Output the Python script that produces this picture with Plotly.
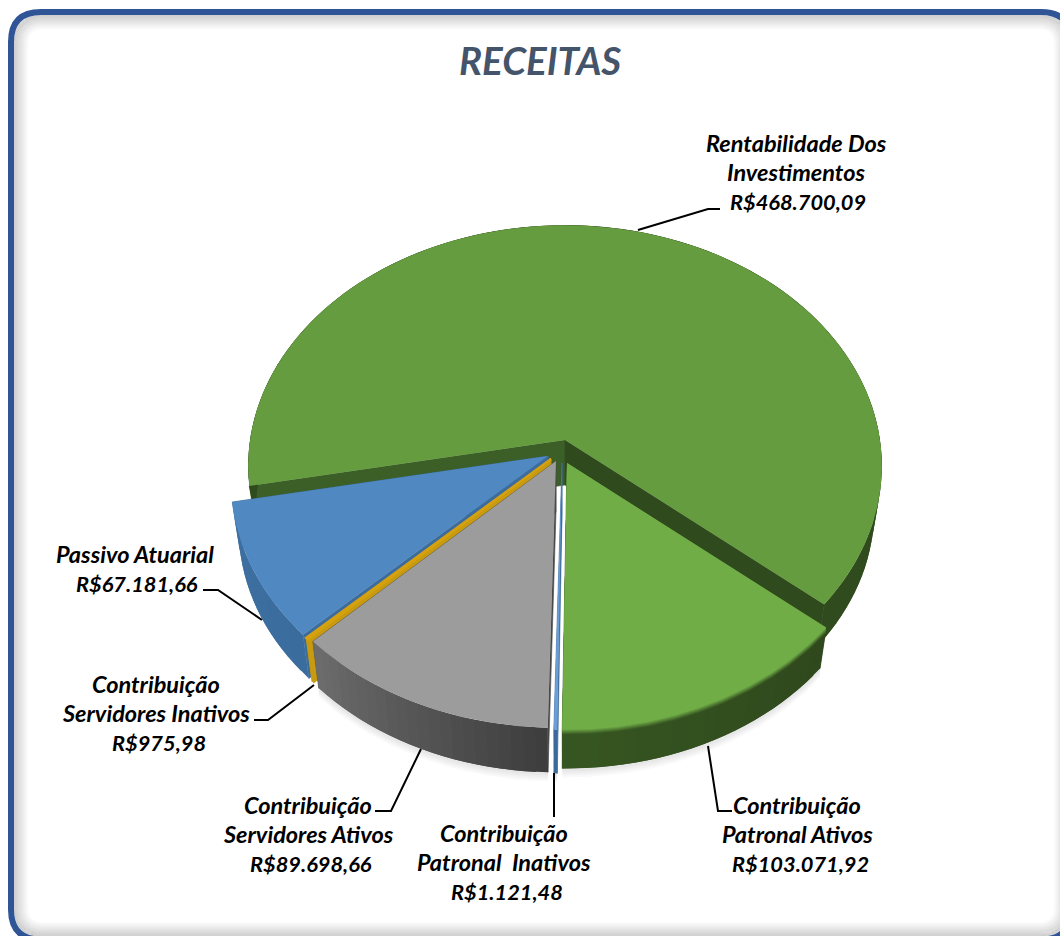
import numpy as np
import plotly.graph_objects as go

# ---- data ----
categories = ["Contribuição Patronal Ativos", "Contribuição Patronal Inativos",
              "Contribuição Servidores Ativos", "Contribuição Servidores Inativos",
              "Passivo Atuarial", "Rentabilidade Dos Investimentos"]
values = [103071.92, 1121.48, 89698.66, 975.98, 67181.66, 468700.09]
value_labels = ["R$103.071,92", "R$1.121,48", "R$89.698,66", "R$975,98", "R$67.181,66", "R$468.700,09"]
title = "RECEITAS"

# ---- projection of the tilted pie ----
START = 40.0
R, H, K = 315.0, 238.0, 0.108
BOTTOM_SCALE = 0.976


def top(t, cx, cy):
    a = np.radians(t)
    w = 1 / (1 - K * np.sin(a))
    return cx + R * np.cos(a) * w, cy + H * np.sin(a) * w


def bot(t, cx, cy, d):
    x, y = top(t, 0, 0)
    return cx + BOTTOM_SCALE * x, cy + BOTTOM_SCALE * y + d


def hex2rgb(h):
    return tuple(int(h[i:i + 2], 16) for i in (1, 3, 5))


def mix(c1, c2, f):
    c = [int(round(a + (b - a) * f)) for a, b in zip(c1, c2)]
    return f"rgb({c[0]},{c[1]},{c[2]})"


# apex, depth and colours per slice
style = {
    "Contribuição Patronal Ativos": dict(apex=(567, 463), d=45, top="#70ad47", wall=((47, 72, 29), (54, 86, 33)), edge="#2f4a1c", soft=5),
    "Contribuição Patronal Inativos": dict(apex=(562, 463), d=50, top="#6a9fd6", wall=((60, 105, 155), (60, 105, 155)), edge="#3c699b"),
    "Contribuição Servidores Ativos": dict(apex=(556, 461), d=51, top="#9c9c9c", wall=((62, 62, 62), (108, 108, 108)), edge="#4a4a4a"),
    "Contribuição Servidores Inativos": dict(apex=(551, 459), d=48, top="#d6a10f", wall=((200, 155, 15), (200, 155, 15)), edge="#c79a0f", line=2.2),
    "Passivo Atuarial": dict(apex=(548, 456), d=48, top="#5089c2", wall=((58, 108, 158), (62, 112, 160)), edge="#3c6c9c"),
    "Rentabilidade Dos Investimentos": dict(apex=(565, 440), d=45, top="#659c3f", wall=((48, 76, 30), (48, 76, 30)), edge="#375a22"),
}

total = sum(values)
angles = {}
a = START
for c, v in zip(categories, values):
    angles[c] = (a, a + v / total * 360)
    a += v / total * 360

fig = go.Figure()


def poly(xs, ys, color, name, line=0.6):
    fig.add_trace(go.Scatter(x=xs, y=ys, mode="lines", fill="toself", fillcolor=color,
                             line=dict(color=color, width=line), name=name,
                             hoverinfo="name", showlegend=False))


# soft shadow under the front slices
for c in categories[:3]:
    t0, t1 = angles[c]
    s = style[c]
    tt = np.linspace(t0, t1, 40)
    for off in (9, 7, 5, 3):
        bx, by = bot(tt, *s["apex"], s["d"] + off)
        fig.add_trace(go.Scatter(x=np.r_[bx, bx[::-1]], y=np.r_[by, by[::-1] - 30], mode="lines", fill="toself",
                                 fillcolor="rgba(0,0,0,0.022)", line=dict(width=0), hoverinfo="skip", showlegend=False))

# paint from back to front
order = ["Rentabilidade Dos Investimentos", "Passivo Atuarial", "Contribuição Servidores Inativos",
         "Contribuição Servidores Ativos", "Contribuição Patronal Inativos", "Contribuição Patronal Ativos"]
for c in order:
    s = style[c]
    t0, t1 = angles[c]
    cx, cy = s["apex"]
    d = s["d"]
    # radial side walls
    for t, col in ((t0, s["edge"]), (t1, s["edge"])):
        if c == order[0]:
            col = "#2f4a1c" if t == t1 else "#3b5f26"
        x1, y1 = top(t, cx, cy)
        x2, y2 = bot(t, cx, cy, d)
        poly([cx, x1, x2, cx, cx], [cy, y1, y2, cy + d, cy], col, c)
    # outer wall, drawn in overlapping strips for the shading
    n = max(1, int((t1 - t0) / 2))
    edges = np.linspace(t0, t1, n + 1)
    step = edges[1] - edges[0]
    for i in range(n):
        tt = np.linspace(edges[i], min(t1, edges[i + 1] + step), 6)
        f = i / max(1, n - 1)
        xa, ya = top(tt, cx, cy)
        xb, yb = bot(tt, cx, cy, d)
        poly(np.r_[xa, xb[::-1], xa[0]], np.r_[ya, yb[::-1], ya[0]], mix(*s["wall"], f), c, line=0)
    # top face
    tt = np.linspace(t0, t1, max(3, int((t1 - t0) * 2)))
    xa, ya = top(tt, cx, cy)
    # blurred rim between wall and top
    for k in range(s.get("soft", 0), 0, -1):
        col = mix(s["wall"][0], hex2rgb(s["top"]), 1 - k / (s["soft"] + 1))
        poly(np.r_[cx, xa, cx], np.r_[cy, ya + k, cy], col, c, line=0)
    poly(np.r_[cx, xa, cx], np.r_[cy, ya, cy], s["top"], c, line=s.get("line", 0))


# ---- frame ----
def rrect(x0, y0, x1, y1, r):
    return (f"M{x0+r},{y0} L{x1-r},{y0} Q{x1},{y0} {x1},{y0+r} L{x1},{y1-r} Q{x1},{y1} {x1-r},{y1} "
            f"L{x0+r},{y1} Q{x0},{y1} {x0},{y1-r} L{x0},{y0+r} Q{x0},{y0} {x0+r},{y0} Z")


shapes = []
FL, FT, FR, FB, FRAD = 11, 12, 1071, 939.5, 30
for i in range(15, 0, -1):
    shapes.append(dict(type="path", path=rrect(FL + i + 2, FT + i + 2, FR - i - 2, FB - i - 2, max(6, FRAD - i)),
                       line=dict(color=f"rgba(0,0,0,{0.018 * (16 - i) / 2:.3f})", width=1.5), layer="below"))
shapes.append(dict(type="path", path=rrect(FL, FT, FR, FB, FRAD), line=dict(color="#2f5597", width=6), layer="below"))

# ---- leader lines ----
leaders = [
    [(638, 230), (708, 209), (720, 209)],
    [(262, 620), (218, 590), (203, 590)],
    [(314, 685), (268, 720), (254, 720)],
    [(421, 749), (391, 811), (375, 811)],
    [(554, 773), (554, 817)],
    [(708, 746), (718, 811), (732, 811)],
]
for pts in leaders:
    p = "M" + " L".join(f"{x},{y}" for x, y in pts)
    shapes.append(dict(type="path", path=p, line=dict(color="black", width=2)))

# ---- labels: one entry per text line, so the line pitch follows the reference ----
label_lines = {
    "Rentabilidade Dos Investimentos": ["Rentabilidade Dos", "Investimentos"],
    "Passivo Atuarial": ["Passivo Atuarial"],
    "Contribuição Servidores Inativos": ["Contribuição", "Servidores Inativos"],
    "Contribuição Servidores Ativos": ["Contribuição", "Servidores Ativos"],
    "Contribuição Patronal Inativos": ["Contribuição", "Patronal  Inativos"],
    "Contribuição Patronal Ativos": ["Contribuição", "Patronal Ativos"],
}
# x of the text lines, x of the value, y of the first line
label_pos = {
    "Rentabilidade Dos Investimentos": (796, 798, 143),
    "Passivo Atuarial": (135, 137, 554),
    "Contribuição Servidores Inativos": (156, 159, 684),
    "Contribuição Servidores Ativos": (308, 311, 805),
    "Contribuição Patronal Inativos": (504, 507, 833),
    "Contribuição Patronal Ativos": (797, 800, 805),
}
FONT = "Lato"
PITCH = 29
ann = []
for c, lab in zip(categories, value_labels):
    xt, xv, y = label_pos[c]
    for ln in label_lines[c] + [lab]:
        is_val = ln == lab
        ann.append(dict(x=xv if is_val else xt, y=y, xref="x", yref="y", showarrow=False,
                        text=f"<b><i>{ln.replace('  ', '&nbsp; ')}</i></b>",
                        font=dict(family=FONT, size=21.8 if is_val else 23.5, color="black")))
        y += PITCH
ann.append(dict(x=540, y=60, xref="x", yref="y", showarrow=False,
                text=f"<b><i>{title}</i></b>", font=dict(family=FONT, size=38.5, color="#44546a")))

fig.update_layout(
    width=1060, height=936, margin=dict(l=0, r=0, t=0, b=0, pad=0),
    paper_bgcolor="white", plot_bgcolor="white", showlegend=False,
    xaxis=dict(range=[0, 1060], visible=False, fixedrange=True),
    yaxis=dict(range=[936, 0], visible=False, fixedrange=True),
    shapes=shapes, annotations=ann,
)
fig.write_html("out.html", config=dict(displayModeBar=False),
               post_script="document.body.style.margin='0';document.documentElement.style.overflow='hidden';")
